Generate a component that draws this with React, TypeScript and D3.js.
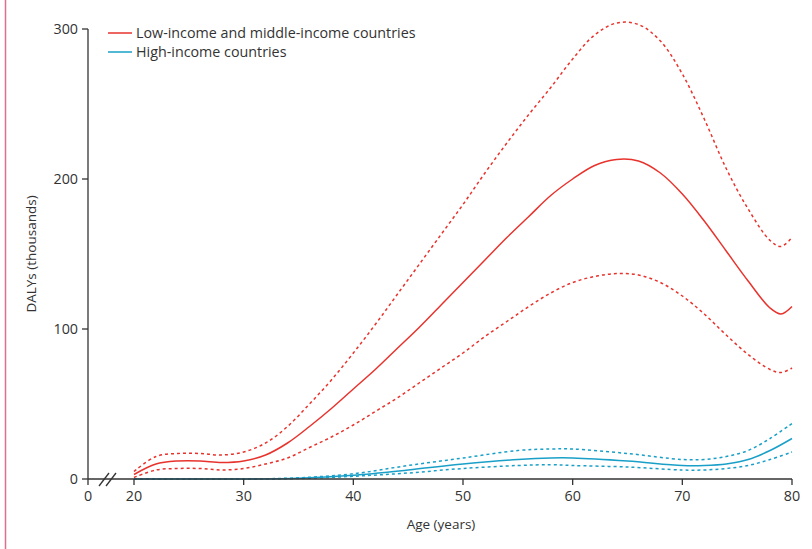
import React from "react";
import * as d3 from "d3";

const ages = [20,22,24,26,28,30,32,34,36,38,40,42,44,46,48,50,52,54,56,58,60,62,64,66,68,70,72,74,76,78,79,80];
const lmicMid = [3,10,12,12,11,12,16,24,35,47,60,73,87,101,116,131,146,161,175,189,200,209,213,212,204,190,172,152,132,114,110,115];
const lmicUp = [5,15,17,17,16,18,24,35,50,66,84,103,123,143,163,183,204,224,243,261,280,296,304,303,292,270,240,207,180,159,155,161];
const lmicLo = [1,6,7,7,6,7,10,14,21,28,36,45,54,64,74,84,95,105,115,124,131,135,137,136,131,122,110,96,83,73,71,74];
const hiAges = [20,25,30,35,40,45,50,55,58,60,65,70,72,74,76,78,80];
const hicMid = [0,0,0,0.5,2.5,6,10,13,14,14,12,9,9,10,13,19,27];
const hicUp = [0,0,0,0.8,3.5,9,14,19,20,20,17,13,13,15,19,27,37];
const hicLo = [0,0,0,0.3,1.8,4,7,9,9.5,9,8,6,6,7,9,13,18];
const yTicks = [0,100,200,300];
const xTicks = [20,30,40,50,60,70,80];

const RED = "#e8332d", BLUE = "#1aa0c8";
const font = "'Open Sans', sans-serif";

export default function App() {
  const x = d3.scaleLinear().domain([20, 80]).range([134, 792]);
  const y = d3.scaleLinear().domain([0, 300]).range([479, 29]);
  const line = (xs: number[], ys: number[]) =>
    d3.line<number>().x((_, i) => x(xs[i])).y(d => y(d)).curve(d3.curveCatmullRom.alpha(0.5))(ys) || "";
  const series = [
    { xs: ages, ys: lmicUp, c: RED, dash: "3,3" },
    { xs: ages, ys: lmicLo, c: RED, dash: "3,3" },
    { xs: ages, ys: lmicMid, c: RED, dash: "" },
    { xs: hiAges, ys: hicUp, c: BLUE, dash: "3,3" },
    { xs: hiAges, ys: hicLo, c: BLUE, dash: "3,3" },
    { xs: hiAges, ys: hicMid, c: BLUE, dash: "" },
  ];
  return (
    <svg width={812} height={549} style={{ position: "absolute", left: 0, top: 0 }} fontFamily={font}>
      <rect width={812} height={549} fill="#fff" />
      <line x1={5.5} x2={5.5} y1={0} y2={549} stroke="#d9708e" strokeWidth={1.5} />
      {series.map((s, i) => (
        <path key={i} d={line(s.xs, s.ys)} fill="none" stroke={s.c} strokeWidth={1.5} strokeDasharray={s.dash || undefined} />
      ))}
      <g stroke="#333" strokeWidth={1.3}>
        <line x1={88} x2={88} y1={29} y2={479} />
        <line x1={88} x2={792} y1={479} y2={479} />
        {yTicks.map(t => <line key={t} x1={82} x2={88} y1={y(t)} y2={y(t)} />)}
        <line x1={88} x2={88} y1={479} y2={485} />
        {xTicks.map(t => <line key={t} x1={x(t)} x2={x(t)} y1={479} y2={485} />)}
        <line x1={99} x2={109} y1={486} y2={473} />
        <line x1={106} x2={116} y1={486} y2={473} />
      </g>
      <g fill="#333" fontSize={14.3}>
        {yTicks.map(t => <text key={t} x={78} y={y(t) + 5} textAnchor="end">{t}</text>)}
        <text x={88} y={501} textAnchor="middle">0</text>
        {xTicks.map(t => <text key={t} x={x(t)} y={501} textAnchor="middle">{t}</text>)}
        <text x={441} y={529} textAnchor="middle" fontSize={13.5}>Age (years)</text>
        <text transform="translate(36,254) rotate(-90)" textAnchor="middle" fontSize={13.5}>DALYs (thousands)</text>
        <text x={136} y={38}>Low-income and middle-income countries</text>
        <text x={136} y={57}>High-income countries</text>
      </g>
      <line x1={108} x2={132} y1={33} y2={33} stroke={RED} strokeWidth={1.5} />
      <line x1={108} x2={132} y1={52} y2={52} stroke={BLUE} strokeWidth={1.5} />
    </svg>
  );
}
